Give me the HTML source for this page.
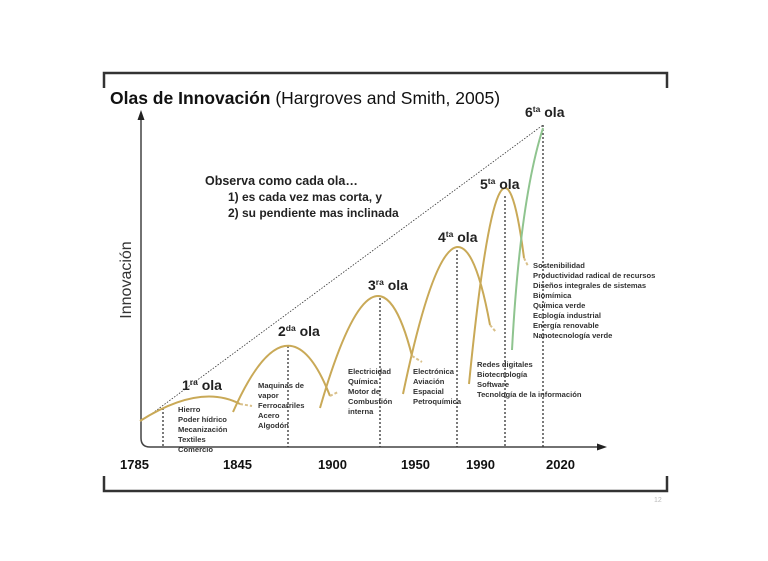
<!DOCTYPE html>
<html><head><meta charset="utf-8"><style>
html,body{margin:0;padding:0;background:#fff;}
svg{display:block;font-family:"Liberation Sans",Arial,sans-serif;}
.s{font-size:7.6px;font-weight:bold;fill:#333;}
.t{font-size:13px;font-weight:bold;fill:#111;}
.o{font-size:14px;font-weight:bold;fill:#222;}
.sup{font-size:8.5px;font-weight:bold;fill:#222;}
</style></head><body>
<svg width="768" height="561" viewBox="0 0 768 561">
<path d="M104,88 V73 H667 V88" fill="none" stroke="#333" stroke-width="2.5"/>
<path d="M104,476 V491 H667 V476" fill="none" stroke="#333" stroke-width="2.5"/>
<text x="110" y="104" font-size="17.5" fill="#111"><tspan font-weight="bold">Olas de Innovación</tspan> (Hargroves and Smith, 2005)</text>
<path d="M141,118 V438 Q141,447 150,447 H600" fill="none" stroke="#444" stroke-width="1.5"/>
<polygon points="141,110 137.5,120 144.5,120" fill="#222"/>
<polygon points="607,447 597,443.5 597,450.5" fill="#222"/>
<text transform="translate(131,280) rotate(-90)" text-anchor="middle" font-size="16" fill="#333">Innovación</text>
<path d="M150,415 L543,125" stroke="#333" stroke-width="0.8" stroke-dasharray="1.5,1.5"/>
<g stroke="#333" stroke-width="1.3" stroke-dasharray="2,2">
<line x1="163" y1="408" x2="163" y2="447"/>
<line x1="288" y1="346" x2="288" y2="447"/>
<line x1="380" y1="298" x2="380" y2="447"/>
<line x1="457" y1="250" x2="457" y2="447"/>
<line x1="505" y1="196" x2="505" y2="447"/>
<line x1="543" y1="125" x2="543" y2="447"/>
</g>
<g fill="none" stroke="#c9a957" stroke-width="2">
<path d="M140,421 Q200,383 240,404"/>
<path d="M233,412 Q288,288 330,396"/>
<path d="M320,408 Q376,214 412,356"/>
<path d="M403,394 Q456,140 490,325"/>
<path d="M469,384 Q500,71 524,258"/>
</g>
<g fill="none" stroke="#d9c08a" stroke-width="2" stroke-dasharray="3,2">
<path d="M240,404 L252,406"/><path d="M330,396 L338,392"/><path d="M412,356 L422,362"/><path d="M490,325 L496,332"/><path d="M524,258 L528,266"/>
</g>
<path d="M512,350 Q520,200 543,128" fill="none" stroke="#8fc48f" stroke-width="2"/>
<text x="182" y="390" class="o">1<tspan class="sup" dy="-5">ra</tspan><tspan dy="5"> ola</tspan></text>
<text x="278" y="336" class="o">2<tspan class="sup" dy="-5">da</tspan><tspan dy="5"> ola</tspan></text>
<text x="368" y="290" class="o">3<tspan class="sup" dy="-5">ra</tspan><tspan dy="5"> ola</tspan></text>
<text x="438" y="242" class="o">4<tspan class="sup" dy="-5">ta</tspan><tspan dy="5"> ola</tspan></text>
<text x="480" y="189" class="o">5<tspan class="sup" dy="-5">ta</tspan><tspan dy="5"> ola</tspan></text>
<text x="525" y="117" class="o">6<tspan class="sup" dy="-5">ta</tspan><tspan dy="5"> ola</tspan></text>
<text x="205" y="185" font-size="12.5" font-weight="bold" fill="#222">Observa como cada ola…</text>
<text x="228" y="201" font-size="12" font-weight="bold" fill="#222">1) es cada vez mas corta, y</text>
<text x="228" y="217" font-size="12" font-weight="bold" fill="#222">2) su pendiente mas inclinada</text>
<g class="s">
<text x="178" y="412">Hierro</text><text x="178" y="422">Poder hídrico</text><text x="178" y="432">Mecanización</text><text x="178" y="442">Textiles</text><text x="178" y="452">Comercio</text>
<text x="258" y="388">Maquinas de</text><text x="258" y="398">vapor</text><text x="258" y="408">Ferrocarriles</text><text x="258" y="418">Acero</text><text x="258" y="428">Algodón</text>
<text x="348" y="374">Electricidad</text><text x="348" y="384">Química</text><text x="348" y="394">Motor de</text><text x="348" y="404">Combustión</text><text x="348" y="414">interna</text>
<text x="413" y="374">Electrónica</text><text x="413" y="384">Aviación</text><text x="413" y="394">Espacial</text><text x="413" y="404">Petroquímica</text>
<text x="477" y="367">Redes digitales</text><text x="477" y="377">Biotecnología</text><text x="477" y="387">Software</text><text x="477" y="397">Tecnología de la información</text>
<text x="533" y="268">Sostenibilidad</text><text x="533" y="278">Productividad radical de recursos</text><text x="533" y="288">Diseños integrales de sistemas</text><text x="533" y="298">Biomímica</text><text x="533" y="308">Química verde</text><text x="533" y="318">Ecología industrial</text><text x="533" y="328">Energía renovable</text><text x="533" y="338">Nanotecnología verde</text>
</g>
<text x="120" y="469" class="t">1785</text>
<text x="223" y="469" class="t">1845</text>
<text x="318" y="469" class="t">1900</text>
<text x="401" y="469" class="t">1950</text>
<text x="466" y="469" class="t">1990</text>
<text x="546" y="469" class="t">2020</text>
<text x="654" y="502" font-size="7" fill="#bbb">12</text>
</svg>
</body></html>
